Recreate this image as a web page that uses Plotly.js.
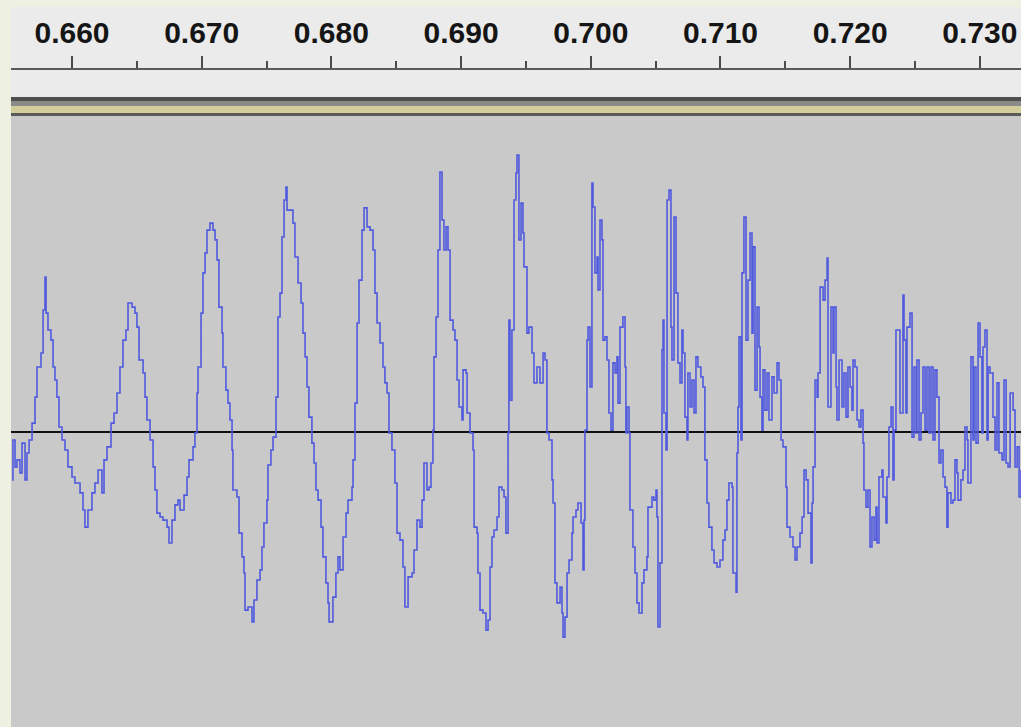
<!DOCTYPE html>
<html>
<head>
<meta charset="utf-8">
<script src="https://cdn.plot.ly/plotly-3.0.1.min.js"></script>
<style>html,body{margin:0;padding:0;background:#eef1e2;}#chart{width:1021px;height:727px;}</style>
</head>
<body>
<div id="chart"></div>
<script>
// Time (s) of each waveform point
const times = [
0.65538,0.65545,0.65561,0.65576,0.65599,0.65615,0.65638,0.65653,0.65669,0.65692,0.65715,0.65730,0.65761,0.65777,0.65792,0.65800,0.65815,0.65838,0.65854,0.65869,0.65884,0.65900,0.65923,0.65946,0.65969,
0.66000,0.66023,0.66062,0.66085,0.66100,0.66123,0.66154,0.66177,0.66201,0.66231,0.66247,0.66270,0.66301,0.66324,0.66347,0.66370,0.66393,0.66416,0.66432,0.66463,0.66486,0.66501,0.66517,0.66548,0.66563,0.66578,0.66602,0.66625,0.66640,0.66655,0.66679,0.66702,0.66733,0.66748,0.66771,0.66794,0.66817,0.66833,0.66864,0.66887,0.66902,0.66933,0.66948,0.66964,0.66972,0.66995,
0.67010,0.67026,0.67041,0.67064,0.67087,0.67103,0.67118,0.67133,0.67157,0.67164,0.67187,0.67203,0.67218,0.67234,0.67241,0.67272,0.67288,0.67311,0.67326,0.67334,0.67357,0.67388,0.67403,0.67426,0.67450,0.67465,0.67480,0.67503,0.67511,0.67534,0.67550,0.67573,0.67588,0.67604,0.67619,0.67635,0.67650,0.67658,0.67689,0.67704,0.67719,0.67743,0.67766,0.67781,0.67797,0.67812,0.67827,0.67850,0.67866,0.67881,0.67897,0.67920,0.67935,0.67958,0.67974,0.67982,
0.68012,0.68035,0.68051,0.68066,0.68090,0.68113,0.68128,0.68159,0.68167,0.68182,0.68198,0.68213,0.68236,0.68252,0.68275,0.68298,0.68321,0.68336,0.68352,0.68375,0.68398,0.68413,0.68429,0.68444,0.68467,0.68490,0.68506,0.68529,0.68552,0.68567,0.68591,0.68622,0.68637,0.68660,0.68683,0.68699,0.68714,0.68737,0.68753,0.68768,0.68783,0.68791,0.68807,0.68822,0.68837,0.68853,0.68868,0.68884,0.68899,0.68915,0.68938,0.68953,0.68969,0.68984,
0.69007,0.69015,0.69038,0.69046,0.69069,0.69092,0.69100,0.69123,0.69130,0.69146,0.69169,0.69192,0.69208,0.69223,0.69238,0.69254,0.69277,0.69292,0.69315,0.69331,0.69346,0.69362,0.69369,0.69377,0.69392,0.69408,0.69423,0.69431,0.69446,0.69462,0.69477,0.69485,0.69508,0.69523,0.69547,0.69562,0.69585,0.69608,0.69632,0.69647,0.69662,0.69678,0.69701,0.69709,0.69724,0.69739,0.69763,0.69778,0.69786,0.69801,0.69817,0.69832,0.69855,0.69863,0.69886,0.69901,0.69925,0.69940,0.69948,0.69955,0.69971,0.69979,0.69994,
0.70009,0.70017,0.70032,0.70048,0.70056,0.70071,0.70086,0.70094,0.70110,0.70125,0.70140,0.70156,0.70171,0.70187,0.70202,0.70210,0.70225,0.70248,0.70264,0.70271,0.70279,0.70295,0.70302,0.70325,0.70341,0.70356,0.70372,0.70395,0.70410,0.70433,0.70441,0.70472,0.70487,0.70503,0.70510,0.70518,0.70534,0.70549,0.70557,0.70564,0.70580,0.70588,0.70603,0.70618,0.70626,0.70642,0.70657,0.70672,0.70688,0.70703,0.70711,0.70726,0.70742,0.70749,0.70765,0.70780,0.70796,0.70811,0.70826,0.70849,0.70865,0.70880,0.70896,0.70911,0.70934,0.70950,0.70973,0.70996,
0.71019,0.71035,0.71050,0.71065,0.71089,0.71096,0.71120,0.71127,0.71135,0.71143,0.71158,0.71166,0.71181,0.71197,0.71212,0.71228,0.71243,0.71251,0.71266,0.71282,0.71297,0.71305,0.71320,0.71328,0.71343,0.71359,0.71374,0.71397,0.71413,0.71436,0.71451,0.71467,0.71482,0.71505,0.71513,0.71536,0.71559,0.71575,0.71590,0.71613,0.71629,0.71644,0.71660,0.71675,0.71698,0.71706,0.71714,0.71729,0.71745,0.71752,0.71768,0.71791,0.71806,0.71822,0.71829,0.71852,0.71868,0.71875,0.71891,0.71898,0.71914,0.71937,0.71952,0.71968,0.71983,0.71999,
0.72014,0.72022,0.72037,0.72053,0.72068,0.72083,0.72099,0.72106,0.72122,0.72137,0.72153,0.72168,0.72184,0.72199,0.72207,0.72222,0.72245,0.72253,0.72276,0.72284,0.72299,0.72315,0.72330,0.72338,0.72353,0.72369,0.72384,0.72407,0.72415,0.72430,0.72438,0.72461,0.72477,0.72492,0.72508,0.72515,0.72531,0.72546,0.72561,0.72577,0.72592,0.72608,0.72623,0.72639,0.72654,0.72669,0.72685,0.72700,0.72716,0.72731,0.72746,0.72754,0.72777,0.72793,0.72808,0.72823,0.72831,0.72854,0.72870,0.72885,0.72901,0.72908,0.72931,0.72947,0.72955,0.72970,0.72986,
0.73001,0.73016,0.73024,0.73039,0.73055,0.73063,0.73078,0.73101,0.73117,0.73132,0.73147,0.73171,0.73186,0.73202,0.73217,0.73233,0.73256,0.73271,0.73287,0.73302,0.73317
];
// Amplitude of each waveform point (1.0 = top of the track)
const amplitudes = [
-0.151,-0.025,-0.110,-0.088,-0.129,-0.035,-0.151,-0.066,-0.025,0.028,0.110,0.205,0.249,0.385,0.489,0.375,0.322,0.290,0.205,0.164,0.110,0.016,-0.025,-0.057,-0.110,
-0.142,-0.161,-0.192,-0.246,-0.300,-0.246,-0.192,-0.161,-0.120,-0.192,-0.088,-0.047,0.028,0.060,0.123,0.205,0.290,0.322,0.407,0.394,0.375,0.331,0.227,0.186,0.110,0.038,-0.025,-0.110,-0.183,-0.256,-0.268,-0.278,-0.300,-0.350,-0.278,-0.230,-0.215,-0.246,-0.199,-0.142,-0.088,-0.047,-0.003,0.123,0.205,0.375,
0.502,0.565,0.637,0.659,0.637,0.606,0.543,0.394,0.312,0.205,0.132,0.091,0.038,-0.057,-0.183,-0.205,-0.319,-0.394,-0.445,-0.562,-0.552,-0.599,-0.530,-0.467,-0.435,-0.363,-0.287,-0.215,-0.104,-0.057,-0.016,0.110,0.363,0.438,0.615,0.732,0.773,0.700,0.700,0.659,0.552,0.470,0.407,0.312,0.237,0.142,0.047,-0.035,-0.098,-0.183,-0.215,-0.300,-0.394,-0.476,-0.539,-0.599,
-0.521,-0.445,-0.394,-0.435,-0.331,-0.256,-0.215,-0.174,-0.088,0.091,0.344,0.479,0.637,0.707,0.647,0.637,0.574,0.438,0.344,0.281,0.205,0.155,0.123,-0.003,-0.057,-0.161,-0.319,-0.341,-0.426,-0.552,-0.457,-0.445,-0.372,-0.278,-0.300,-0.215,-0.098,-0.183,-0.174,-0.098,0.006,0.237,0.363,0.574,0.820,0.669,0.574,0.647,0.574,0.353,0.322,0.290,0.164,0.079,
0.038,0.196,0.186,0.060,-0.003,-0.057,-0.300,-0.319,-0.445,-0.562,-0.571,-0.625,-0.593,-0.426,-0.331,-0.309,-0.268,-0.174,-0.183,-0.205,-0.319,-0.003,0.353,0.100,0.322,0.732,0.817,0.874,0.606,0.722,0.628,0.521,0.312,0.331,0.249,0.155,0.205,0.155,0.249,0.227,-0.003,-0.025,-0.151,-0.224,-0.476,-0.539,-0.489,-0.571,-0.647,-0.584,-0.445,-0.404,-0.319,-0.268,-0.246,-0.224,-0.287,-0.435,-0.278,0.006,0.290,0.331,0.142,
0.785,0.710,0.502,0.552,0.448,0.669,0.606,0.290,0.300,0.227,0.060,0.006,0.218,0.186,0.237,0.091,0.331,0.363,0.205,-0.003,0.079,-0.003,-0.246,-0.363,-0.445,-0.539,-0.571,-0.476,-0.435,-0.394,-0.237,-0.205,-0.215,-0.183,-0.268,-0.615,-0.413,0.259,0.353,0.060,-0.057,0.732,0.763,0.331,0.227,0.678,0.438,0.218,0.155,0.322,0.249,0.047,-0.025,0.186,0.079,0.164,0.060,0.237,0.205,0.174,0.142,-0.088,-0.224,-0.300,-0.372,-0.413,-0.426,-0.404,
-0.341,-0.309,-0.215,-0.161,-0.174,-0.445,-0.505,-0.066,0.079,0.300,-0.025,0.502,0.678,0.290,0.479,0.628,0.312,0.584,0.132,0.394,0.268,0.110,0.006,0.196,0.069,0.186,0.038,0.174,0.123,0.218,0.164,-0.025,-0.047,-0.174,-0.300,-0.331,-0.363,-0.404,-0.363,-0.319,-0.268,-0.120,-0.151,-0.256,-0.413,-0.224,-0.110,0.164,0.110,0.186,0.457,0.416,0.479,0.549,0.079,0.394,0.249,0.394,0.142,0.038,0.227,0.079,0.186,0.047,0.205,0.142,
0.069,0.227,0.205,0.038,0.016,0.069,-0.035,-0.183,-0.237,-0.183,-0.363,-0.268,-0.341,-0.237,-0.350,-0.142,-0.120,-0.205,-0.287,-0.142,0.016,0.079,-0.151,0.006,0.322,0.322,0.060,0.432,0.290,0.060,0.331,0.375,-0.016,0.205,-0.003,0.227,-0.025,0.060,0.205,0.006,0.205,-0.003,0.205,-0.025,0.196,0.110,-0.098,-0.057,-0.142,-0.174,-0.300,-0.192,-0.224,-0.215,-0.088,-0.129,-0.215,-0.151,-0.120,0.016,-0.025,-0.161,0.237,-0.025,0.205,-0.035,0.344,
0.237,-0.003,0.268,0.322,-0.025,0.205,0.186,0.047,-0.057,0.155,-0.066,-0.088,0.164,-0.098,-0.110,0.123,0.069,-0.110,-0.047,-0.205,-0.120
];
// Ruler tick values and labels
const tickValues = [0.66, 0.67, 0.68, 0.69, 0.70, 0.71, 0.72, 0.73];
const tickLabels = ['0.660', '0.670', '0.680', '0.690', '0.700', '0.710', '0.720', '0.730'];

const H = 727, T = 70;
const py = y => (H - y) / (H - T); // pixel row -> paper fraction

const trace = {
  x: times, y: amplitudes, type: 'scatter', mode: 'lines',
  line: {color: 'rgb(80,90,222)', width: 1.6, shape: 'hv'},
  hoverinfo: 'skip', showlegend: false
};

const shapes = [
  {type:'rect', xref:'paper', yref:'paper', x0:0, x1:1, y0:py(97), y1:py(7), fillcolor:'#ebebeb', line:{width:0}, layer:'below'},
  {type:'rect', xref:'paper', yref:'paper', x0:0, x1:1, y0:py(101), y1:py(97), fillcolor:'#4e4e4e', line:{width:0}, layer:'below'},
  {type:'rect', xref:'paper', yref:'paper', x0:0, x1:1, y0:py(106), y1:py(101), fillcolor:'#8a8a86', line:{width:0}, layer:'below'},
  {type:'rect', xref:'paper', yref:'paper', x0:0, x1:1, y0:py(113), y1:py(106), fillcolor:'#d3cd9c', line:{width:0}, layer:'below'},
  {type:'rect', xref:'paper', yref:'paper', x0:0, x1:1, y0:py(116), y1:py(113), fillcolor:'#5a5a58', line:{width:0}, layer:'below'}
];

const layout = {
  width: 1021, height: 727,
  margin: {l: 11, r: 0, t: T, b: 0, pad: 0},
  paper_bgcolor: '#eef1e2',
  plot_bgcolor: '#c9c9c9',
  showlegend: false,
  xaxis: {
    side: 'top', range: [0.655298, 0.73317], fixedrange: true,
    tickvals: tickValues, ticktext: tickLabels,
    ticks: 'outside', ticklen: 12, tickwidth: 2, tickcolor: '#4a4a4a',
    minor: {ticks: 'outside', ticklen: 7, tickwidth: 2, tickcolor: '#4a4a4a', dtick: 0.005, tick0: 0.655, showgrid: false},
    showline: true, linecolor: '#5a5a5a', linewidth: 2,
    showgrid: false, zeroline: false,
    ticklabelstandoff: 1,
    tickfont: {family: 'Liberation Sans, Arial, sans-serif', size: 30, color: '#151515', weight: 'bold'}
  },
  yaxis: {
    range: [-0.9306, 1.1420], fixedrange: true,
    showticklabels: false, ticks: '', showgrid: false, showline: false,
    zeroline: true, zerolinecolor: '#111111', zerolinewidth: 2
  },
  shapes: shapes
};

Plotly.newPlot('chart', [trace], layout, {staticPlot: true, displayModeBar: false});
</script>
</body>
</html>
